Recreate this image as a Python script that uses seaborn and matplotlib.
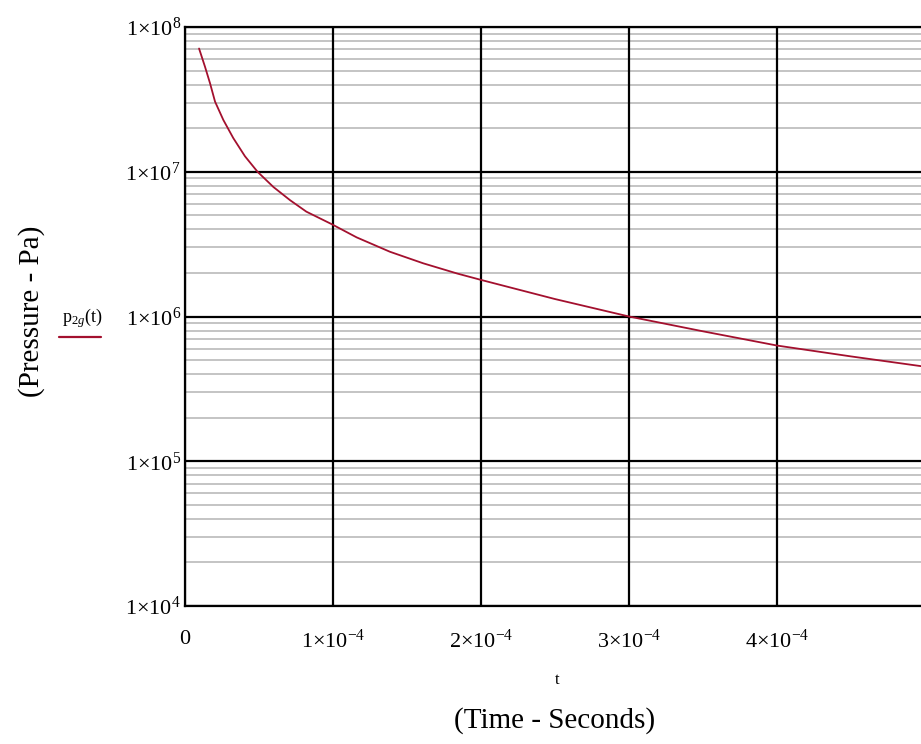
import numpy as np
import pandas as pd
import seaborn as sns
import matplotlib.pyplot as plt

# values (time in s, pressure in Pa)
t = [0.95e-5, 1.35e-5, 1.69e-5, 2.03e-5, 2.59e-5, 3.26e-5, 4.05e-5, 4.9e-5,
     5.97e-5, 7.1e-5, 8.2e-5, 9.9e-5, 1.16e-4, 1.385e-4, 1.61e-4, 1.84e-4,
     2.0e-4, 2.5e-4, 3.0e-4, 3.5e-4, 4.0e-4, 4.5e-4, 5.0e-4]
p2g = [7.1e7, 5.32e7, 4.09e7, 3.05e7, 2.28e7, 1.71e7, 1.28e7, 1.0e7,
       7.85e6, 6.36e6, 5.3e6, 4.35e6, 3.52e6, 2.8e6, 2.33e6, 1.98e6,
       1.79e6, 1.32e6, 1.0e6, 7.9e5, 6.3e5, 5.3e5, 4.5e5]

x_ticks = [0, 1e-4, 2e-4, 3e-4, 4e-4]
x_labels = ["0", r"$1{\times}10^{-4}$", r"$2{\times}10^{-4}$",
            r"$3{\times}10^{-4}$", r"$4{\times}10^{-4}$"]
y_ticks = [1e4, 1e5, 1e6, 1e7, 1e8]
y_labels = [r"$1{\times}10^{4}$", r"$1{\times}10^{5}$", r"$1{\times}10^{6}$",
            r"$1{\times}10^{7}$", r"$1{\times}10^{8}$"]

data = pd.DataFrame({"t": t, "p": p2g})

sns.set_style("white")
plt.rcParams["font.family"] = ["Liberation Serif", "DejaVu Serif"]
plt.rcParams["mathtext.fontset"] = "custom"
plt.rcParams["mathtext.rm"] = "Liberation Serif"
plt.rcParams["mathtext.it"] = "Liberation Serif:italic"
plt.rcParams["text.color"] = "black"
plt.rcParams["xtick.color"] = "black"
plt.rcParams["ytick.color"] = "black"

fig = plt.figure(figsize=(9.21, 7.44), dpi=100)
ax = fig.add_axes([185 / 921, 1 - 606 / 744, 740 / 921, 579 / 744])

ax.set_yscale("log")
ax.set_xlim(0, 5e-4)
ax.set_ylim(1e4, 1e8)

# minor grid (gray) then major grid (black)
for dec in [1e4, 1e5, 1e6, 1e7]:
    for k in range(2, 10):
        ax.axhline(dec * k, color="#c4c4c4", lw=1.4, zorder=1)
for yv in y_ticks:
    ax.axhline(yv, color="black", lw=1.6, zorder=2)
for xv in x_ticks + [5e-4]:
    ax.axvline(xv, color="black", lw=1.6, zorder=2)

sns.lineplot(data=data, x="t", y="p", ax=ax, color="#a3102e", lw=1.3, zorder=3)

ax.set_xticks(x_ticks)
ax.set_xticklabels(x_labels)
ax.set_yticks(y_ticks)
ax.set_yticklabels(y_labels)
ax.minorticks_off()
ax.tick_params(axis="x", length=0, pad=17, labelsize=16, labelcolor="black")
ax.tick_params(axis="y", length=0, pad=3, labelsize=16, labelcolor="black")
ax.set_xlabel("")
ax.set_ylabel("")
for s in ax.spines.values():
    s.set_color("black")
    s.set_linewidth(1.6)

fig.text(557 / 921, 1 - 680 / 744, "t", ha="center", va="center", fontsize=12)
fig.text(555 / 921, 1 - 721 / 744, "(Time - Seconds)", ha="center", va="center",
         fontsize=21)
fig.text(32 / 921, 1 - 311 / 744, "(Pressure - Pa)", ha="center", va="center",
         rotation=90, fontsize=21)

# legend-like label on the left
fig.text(82 / 921, 1 - 318 / 744, r"p$_{2g}$(t)", ha="center", va="center",
         fontsize=13)
fig.add_artist(plt.Line2D([59 / 921, 101 / 921], [1 - 337 / 744, 1 - 337 / 744],
                          color="#a3102e", lw=1.6))

fig.savefig("out.png", dpi=100)
